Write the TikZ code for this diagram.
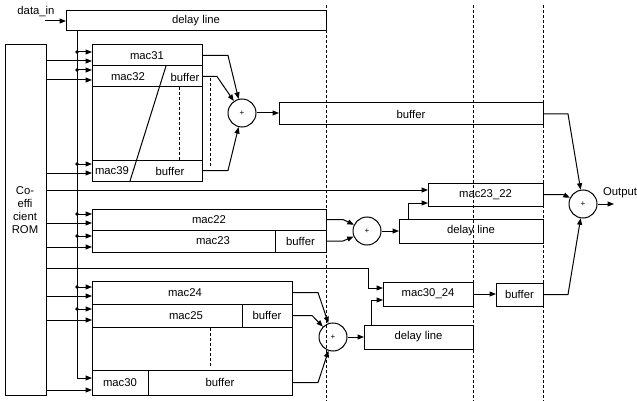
\documentclass[tikz,border=0pt]{standalone}
\usepackage{fontspec}
\setmainfont{Liberation Sans}
\usetikzlibrary{arrows.meta,calc}
\begin{document}
\begin{tikzpicture}[x=1pt,y=-1pt,
  every node/.style={font=\fontsize{11.3}{13}\selectfont},
  ln/.style={line width=1pt},
  box/.style={draw, line width=1pt, inner sep=0pt, outer sep=0pt, anchor=north west},
  adder/.style={draw, circle, line width=1pt, minimum size=28pt, inner sep=0pt, font=\fontsize{8}{9}\selectfont},
  arr/.style={line width=1pt, -{Triangle[length=6.5pt,width=5pt]}},
  dsh/.style={line width=1pt, dash pattern=on 3pt off 2pt},
  dot/.style={circle, fill, inner sep=0pt, minimum size=3.8pt}
]
\useasboundingbox (0,0) rectangle (637,401);

% top delay line and ROM
\node[box, minimum width=260pt, minimum height=20pt] (dl0) at (66,11) {delay line};
\node[box, minimum width=41pt, minimum height=350pt] (rom) at (5,45) {};
\node[align=center] (romtxt) at (25,210) {Co-\\effi\\cient\\ROM};
\node (din) at (36,12) {data\_in};
\coordinate (dinend) at (45,21);
\draw[arr] (dinend) -- (dl0.west);

% block A
\node[box, minimum width=110pt, minimum height=136pt] (blkA) at (92,45) {};
\node[box, minimum width=110pt, minimum height=21pt] (a31) at (92,45) {mac31};
\node[box, minimum width=110pt, minimum height=21pt] (a32) at (92,66) {};
\node[box, minimum width=110pt, minimum height=21pt] (a39) at (92,160) {};
\node (t32) at (128,77) {mac32};
\node (t32b) at (185,77) {buffer};
\node (t39) at (112,171) {mac39};
\node (t39b) at (170,171) {buffer};
\draw[ln] (166,66) -- (130,181);
\draw[dsh] (179,87) -- (179,160);
\draw[dsh] (210,78) -- (210,166);

% block B
\node[box, minimum width=234pt, minimum height=21pt] (b22) at (92,209) {mac22};
\node[box, minimum width=183pt, minimum height=22pt] (b23) at (92,230) {};
\node[box, minimum width=51pt, minimum height=22pt] (bbuf) at (275,230) {buffer};
\node (t23) at (213,241) {mac23};

% block C
\node[box, minimum width=200pt, minimum height=114pt] (blkC) at (92,281) {};
\node[box, minimum width=200pt, minimum height=23pt] (c24) at (92,281) {};
\node (t24) at (185,292.5) {mac24};
\node[box, minimum width=150pt, minimum height=23pt] (c25) at (92,304) {};
\node (t25) at (186,315.5) {mac25};
\node[box, minimum width=50pt, minimum height=23pt] (cbuf) at (242,304) {buffer};
\node[box, minimum width=56pt, minimum height=25pt] (c30) at (92,370) {mac30};
\node[box, minimum width=144pt, minimum height=25pt] (cbuf30) at (148,370) {buffer};
\draw[dsh] (210,328) -- (210,367);

% right side
\node[adder] (add1) at (242,113) {+};
\node[box, minimum width=264pt, minimum height=22pt] (buf1) at (279,103) {buffer};
\node[adder] (out) at (583,204) {+};
\node (outtxt) at (620,193) {Output};
\node[box, minimum width=115pt, minimum height=23pt] (m2322) at (428,183) {mac23\_22};
\node[box, minimum width=144pt, minimum height=24pt] (dl2) at (399,219) {delay line};
\node[adder] (add2) at (367,231) {+};
\node[box, minimum width=90pt, minimum height=24pt] (m3024) at (383,282) {mac30\_24};
\node[box, minimum width=47pt, minimum height=23pt] (buf3) at (496,283) {buffer};
\node[box, minimum width=109pt, minimum height=24pt] (dl3) at (364,325) {delay line};
\node[adder] (add3) at (333,337) {+};

% dashed verticals
\draw[dsh] (326,5) -- (326,401);
\draw[dsh] (473,5) -- (473,401);
\draw[dsh] (543,5) -- (543,401);

% data bus
\coordinate (bustop) at (77,31);
\draw[arr] (bustop) |- (c30.west |- 0,378);
\foreach \y/\t in {52/blkA,70/blkA,164/blkA,214/b22,236/b23,287/blkC,309/blkC} {
  \node[dot] at (77,\y) {};
  \draw[arr] (77,\y) -- (\t.west |- 0,\y);
}
% ROM outputs
\foreach \y/\t in {61/blkA,80/blkA,173/blkA,223/b22,247/b23,296/blkC,320/blkC,390/blkC} {
  \draw[arr] (rom.east |- 0,\y) -- (\t.west |- 0,\y);
}
\draw[arr] (rom.east |- 0,190) -- (m2322.west |- 0,190);
\draw[arr] (rom.east |- 0,268) -| (368,288) -- (m3024.west |- 0,288);

% adders
\draw[arr] (a31.east) -- ++(26,0) -- (add1);
\draw[arr] (a32.east) -- ++(15,0) -- (add1);
\draw[arr] (a39.east) -- ++(26,0) -- (add1);
\draw[arr] (add1.east) -- (buf1.west |- add1.east);
\draw[arr] (buf1.east) -- ++(25,0) -- (out);
\draw[arr] (m2322.east) -- ++(20,0) -- (out);
\draw[arr] (buf3.east) -- ++(25,0) -- (out);
\coordinate (outend) at (614,204);
\draw[arr] (out.east) -- (outend);

\draw[arr] ($(dl2.north west)+(9,0)$) |- (m2322.west |- 0,203);
\draw[arr] (add2.east) -- (dl2.west |- add2.east);
\draw[arr] (b22.east) -- ++(17,0) -- (add2);
\draw[arr] (bbuf.east) -- ++(17,0) -- (add2);

\draw[arr] (m3024.east) -- (buf3.west |- m3024.east);
\draw[arr] ($(dl3.north west)+(7,0)$) |- (m3024.west |- 0,300);
\draw[arr] (add3.east) -- (dl3.west |- add3.east);
\draw[arr] (c24.east) -- ++(26,0) -- (add3);
\draw[arr] (cbuf.east) -- ++(20,0) -- (add3);
\draw[arr] (cbuf30.east) -- ++(26,0) -- (add3);
\end{tikzpicture}
\end{document}
